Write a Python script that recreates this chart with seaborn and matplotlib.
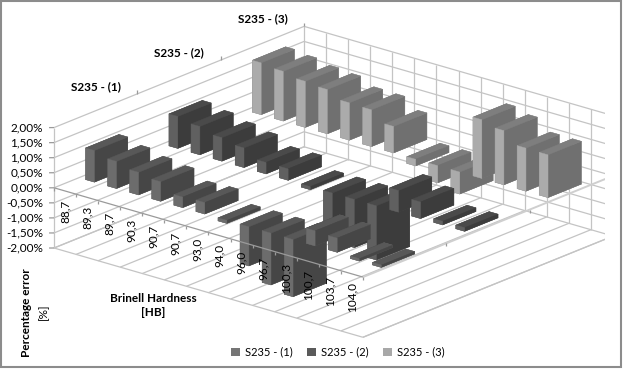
import matplotlib
matplotlib.use('Agg')
import matplotlib.pyplot as plt
import seaborn as sns
from matplotlib.patches import Patch, Rectangle
from mpl_toolkits.mplot3d import proj3d

hardness = ['88,7', '89,3', '89,7', '90,3', '90,7', '90,7', '93,0',
            '94,0', '96,0', '96,7', '100,3', '100,7', '103,7', '104,0']
series = ['S235 - (1)', 'S235 - (2)', 'S235 - (3)']
s1 = [1.05, 0.90, 0.75, 0.65, 0.35, 0.38, -0.10, -1.30, -1.72, -1.90, 0.50, 0.47, -0.08, -0.08]
s2 = [1.06, 0.94, 0.78, 0.65, 0.38, 0.38, -0.10, -1.20, -1.60, -1.80, 0.72, 0.55, 0.12, 0.12]
s3 = [1.72, 1.65, 1.53, 1.47, 1.24, 1.22, 0.88, -0.22, -0.57, -0.73, 1.95, 1.80, 1.43, 1.42]
z_ticks = [2.0, 1.5, 1.0, 0.5, 0.0, -0.5, -1.0, -1.5, -2.0]
z_labels = ['2,00%', '1,50%', '1,00%', '0,50%', '0,00%', '-0,50%', '-1,00%', '-1,50%', '-2,00%']

legend_colors = sns.color_palette(['#757575', '#5a5a5a', '#a8a8a8'])
# narrow face, long face, top face for each series
shades = [('#6c6c6c', '#464646', '#585858'),
          ('#606060', '#3c3c3c', '#4a4a4a'),
          ('#ababab', '#707070', '#7e7e7e')]
grid_color = '#c4c4c4'
text_color = '#000000'

sns.set_theme(style='white')
plt.rcParams['font.family'] = ['Lato', 'DejaVu Sans']

fig = plt.figure(figsize=(6.24, 3.7), dpi=100)
ax = fig.add_axes([0.1, 0.1, 300 / 624, 300 / 370], projection='3d')
ax.set_proj_type('ortho')
ax.view_init(elev=20, azim=-49.8)
ax.set_box_aspect((404, 387, 128))
ax.set_xlim(0, 14)
ax.set_ylim(0, 3)
ax.set_zlim(-2, 2)
ax.set_xticks([])
ax.set_yticks([])
ax.set_zticks([])
ax.set_axis_off()
ax.computed_zorder = False

n = len(hardness)


def line(x, y, z, color=grid_color, lw=0.9, zorder=1):
    ax.plot(x, y, z, color=color, lw=lw, zorder=zorder, solid_capstyle='butt')


# walls and floor
for i in range(n + 1):
    line([i, i], [0, 3], [-2, -2])
    line([i, i], [3, 3], [-2, 2])
for z in z_ticks:
    line([0, 0], [0, 3], [z, z])
    line([0, 14], [3, 3], [z, z])
line([0, 14], [0, 0], [-2, -2])
line([14, 14], [0, 3], [-2, -2])
line([0, 0], [0, 0], [-2, 2])
line([14, 14], [3, 3], [-2, 2])

# bars, back to front
order = 10
for s, values in reversed(list(enumerate([s1, s2, s3]))):
    narrow, long_face, top = shades[s]
    faces = [top, top, narrow, narrow, long_face, long_face]
    for i, v in enumerate(values):
        ax.bar3d(i + 0.3, s + 0.3, min(v, 0), 0.4, 0.4, abs(v), color=faces, edgecolor=faces,
                 shade=False, linewidth=0.3, zorder=order)
        order += 1

# axis lines at zero level drawn over the bars
line([14, 14], [0, 3], [0, 0], color='#cfcfcf', lw=1.4, zorder=200)
line([0, 14], [0, 0], [0, 0], color='#9a9a9a', lw=0.9, zorder=200)
for i in range(n + 1):
    line([i, i], [0, 0], [0, -0.1], color='#9a9a9a', zorder=200)
for s in range(1, 4):
    line([14, 14], [s, s], [0, -0.1], color='#9a9a9a', zorder=200)
    line([0, 0], [s, s], [2, 2.12], color='#9a9a9a', zorder=200)
for z in z_ticks:
    line([0, -0.13], [0, -0.025], [z, z], color='#9a9a9a', zorder=200)


def to_pixels(x, y, z):
    px, py, _ = proj3d.proj_transform(x, y, z, ax.get_proj())
    return ax.transData.transform((px, py))


# move the square axes so the floor corners land where they are in the reference
fig.canvas.draw()
left = to_pixels(0, 0, -2)
right = to_pixels(14, 3, -2)
box = ax.get_window_extent()
cx, cy = (box.x0 + box.x1) / 2, (box.y0 + box.y1) / 2
scale = (613 - 54) / (right[0] - left[0])
new_cx = 54 - (left[0] - cx) * scale
new_cy = (370 - 248) - (left[1] - cy) * scale
side = box.width * scale
ax.set_position([(new_cx - side / 2) / 624, (new_cy - side / 2) / 370, side / 624, side / 370])
fig.canvas.draw()


def label(x, y, z, text, **kwargs):
    px, py = to_pixels(x, y, z)
    fig.text(px / 624, py / 370, text, fontsize=8.5, color=text_color, **kwargs)


for i in range(n):
    label(i + 0.5, 0, -0.28, hardness[i], rotation=90, ha='center', va='top')
for s in range(3):
    label(0, s + 0.5, 2.8, series[s], ha='center', va='center', fontweight='bold')
for z, text in zip(z_ticks, z_labels):
    label(-0.29, -0.055, z, text, ha='right', va='center')

fig.text(27 / 624, 1 - 313 / 370, 'Percentage error', rotation=90, ha='center', va='center',
         fontsize=8.5, fontweight='bold', color=text_color)
fig.text(43 / 624, 1 - 312 / 370, '[%]', rotation=90, ha='center', va='center',
         fontsize=8.5, color=text_color)
fig.text(153 / 624, 1 - 298 / 370, 'Brinell Hardness', ha='center', va='center',
         fontsize=8.5, fontweight='bold', color=text_color)
fig.text(153 / 624, 1 - 313 / 370, '[HB]', ha='center', va='center',
         fontsize=8.5, fontweight='bold', color=text_color)

handles = [Patch(facecolor=c, edgecolor='none') for c in legend_colors]
fig.legend(handles, series, ncol=3, loc='center', bbox_to_anchor=(338 / 624, 1 - 352 / 370),
           frameon=False, fontsize=8, handlelength=0.75, handleheight=0.75,
           handletextpad=0.5, columnspacing=1.3, labelcolor=text_color)

fig.add_artist(Rectangle((1 / 624, 3 / 370), 620 / 624, 366 / 370, transform=fig.transFigure,
                         fill=False, edgecolor='#8c8c8c', linewidth=1.5))

fig.savefig('out.png', dpi=100)
